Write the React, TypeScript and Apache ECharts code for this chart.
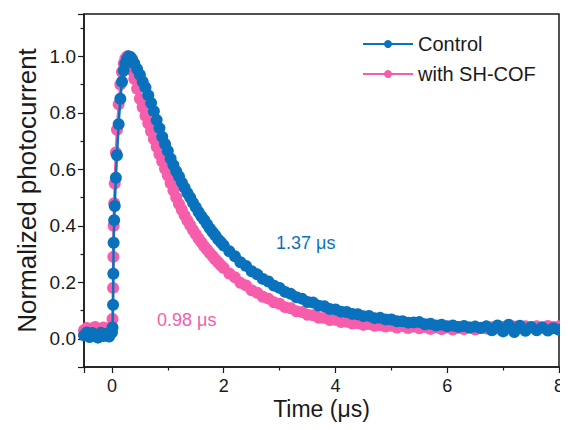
import React, { useEffect, useRef } from "react";
import * as echarts from "echarts";

const timeUs = [
  -0.5, -0.45, -0.4, -0.35, -0.3, -0.25, -0.2, -0.15, -0.1, -0.05, 0,
  0.01, 0.02, 0.025, 0.03, 0.04, 0.05, 0.07, 0.09, 0.12, 0.15, 0.18, 0.21, 0.24, 0.27, 0.3, 0.33, 0.36, 0.4, 0.45, 0.5, 0.55,
  0.6, 0.65, 0.7, 0.75, 0.8, 0.85, 0.9, 0.95, 1.0, 1.05, 1.1, 1.15, 1.2, 1.25, 1.3,
  1.35, 1.4, 1.45, 1.5, 1.55, 1.6, 1.65, 1.7, 1.75, 1.8, 1.85, 1.9, 1.95, 2.0,
  2.1, 2.2, 2.3, 2.4, 2.5, 2.6, 2.7, 2.8, 2.9, 3.0,
  3.1, 3.2, 3.3, 3.4, 3.5, 3.6, 3.7, 3.8, 3.9, 4.0,
  4.1, 4.2, 4.3, 4.4, 4.5, 4.6, 4.7, 4.8, 4.9, 5.0,
  5.1, 5.2, 5.3, 5.4, 5.5, 5.6, 5.7, 5.8, 5.9, 6.0,
  6.1, 6.2, 6.3, 6.4, 6.5, 6.6, 6.7, 6.8, 6.9, 7.0,
  7.1, 7.2, 7.3, 7.4, 7.5, 7.6, 7.7, 7.8, 7.9, 8.0,
];

const controlValue = [
  0.012, 0.022, 0.006, 0.02, 0.012, 0.004, 0.021, 0.01, 0.018, 0.008, 0.022,
  0.04, 0.12, 0.23, 0.34, 0.42, 0.47, 0.57, 0.65, 0.76, 0.85, 0.91, 0.95, 0.975, 0.99, 1.0, 0.998, 0.99, 0.975, 0.955, 0.935, 0.91,
  0.89, 0.862, 0.835, 0.806, 0.775, 0.746, 0.715, 0.69, 0.665, 0.638, 0.615, 0.593, 0.575, 0.553, 0.535,
  0.516, 0.5, 0.482, 0.466, 0.449, 0.434, 0.421, 0.406, 0.391, 0.378, 0.366, 0.352, 0.342, 0.33,
  0.31, 0.292, 0.271, 0.258, 0.239, 0.228, 0.212, 0.203, 0.188, 0.18,
  0.166, 0.159, 0.147, 0.142, 0.13, 0.128, 0.117, 0.115, 0.105, 0.104,
  0.096, 0.095, 0.088, 0.087, 0.08, 0.081, 0.073, 0.074, 0.068, 0.068,
  0.062, 0.062, 0.057, 0.058, 0.059, 0.051, 0.053, 0.047, 0.05, 0.044,
  0.047, 0.042, 0.045, 0.04, 0.043, 0.038, 0.044, 0.03, 0.047, 0.026,
  0.05, 0.024, 0.046, 0.028, 0.042, 0.03, 0.04, 0.029, 0.037, 0.032,
];

const shCofValue = [
  0.03, 0.038, 0.025, 0.036, 0.042, 0.027, 0.034, 0.04, 0.026, 0.036, 0.04,
  0.07, 0.18, 0.29, 0.4, 0.48, 0.55, 0.66, 0.74, 0.83, 0.9, 0.945, 0.975, 0.992, 1.0, 0.99, 0.97, 0.95, 0.92, 0.885, 0.85, 0.82,
  0.79, 0.762, 0.735, 0.707, 0.68, 0.653, 0.628, 0.602, 0.578, 0.551, 0.525, 0.5, 0.477, 0.457, 0.437,
  0.419, 0.402, 0.385, 0.37, 0.355, 0.342, 0.328, 0.316, 0.304, 0.293, 0.281, 0.271, 0.26, 0.251,
  0.231, 0.218, 0.198, 0.189, 0.172, 0.163, 0.149, 0.142, 0.129, 0.124,
  0.112, 0.108, 0.097, 0.095, 0.085, 0.083, 0.074, 0.074, 0.066, 0.067,
  0.059, 0.06, 0.054, 0.055, 0.049, 0.052, 0.046, 0.048, 0.043, 0.046,
  0.04, 0.045, 0.038, 0.043, 0.037, 0.042, 0.035, 0.041, 0.034, 0.04,
  0.033, 0.039, 0.034, 0.04, 0.033, 0.039, 0.036, 0.041, 0.037, 0.042,
  0.038, 0.043, 0.039, 0.044, 0.04, 0.044, 0.041, 0.045, 0.042, 0.044,
];

const seriesNames = ["Control", "with SH-COF"];
const lifetimeLabels = ["1.37 μs", "0.98 μs"];

const BLUE = "#0a72bd";
const PINK = "#f65dab";
const FONT = 'Arial, "Liberation Sans", sans-serif';
const INK = "#1a1a1a";

export default function App() {
  const ref = useRef<HTMLDivElement>(null);

  useEffect(() => {
    if (!ref.current) return;
    const chart = echarts.init(ref.current, undefined, { renderer: "svg" });
    const controlData = timeUs.map((t, i) => [t, controlValue[i]]);
    const cofData = timeUs.map((t, i) => [t, shCofValue[i]]);

    const axisCommon = {
      axisLine: { show: true, onZero: false, lineStyle: { color: INK, width: 1.5 } },
      axisTick: { show: true, inside: false, length: 6, lineStyle: { color: INK, width: 1.2 } },
      minorTick: { show: true, splitNumber: 2, length: 3.5, lineStyle: { color: INK, width: 1.2 } },
      splitLine: { show: false },
      minorSplitLine: { show: false },
    };

    chart.setOption({
      animation: false,
      grid: {
        left: 84,
        top: 14,
        right: 9,
        bottom: 63,
        show: true,
        borderColor: INK,
        borderWidth: 1.5,
        backgroundColor: "transparent",
      },
      xAxis: {
        type: "value",
        min: -0.5,
        max: 8,
        splitNumber: 4,
        name: "Time (μs)",
        nameLocation: "middle",
        nameGap: 30,
        nameMoveOverlap: false,
        nameTextStyle: { fontFamily: FONT, fontSize: 23, color: INK },
        ...axisCommon,
        axisLabel: {
          showMinLabel: false,
          margin: 10,
          fontFamily: FONT,
          fontSize: 18,
          color: INK,
          formatter: (v: number) => String(v),
        },
      },
      yAxis: {
        type: "value",
        min: -0.1,
        max: 1.15,
        splitNumber: 6,
        name: "Normalized photocurrent",
        nameLocation: "middle",
        nameGap: 44,
        nameMoveOverlap: false,
        nameTextStyle: { fontFamily: FONT, fontSize: 26, color: INK },
        ...axisCommon,
        axisLabel: {
          showMinLabel: false,
          showMaxLabel: false,
          margin: 8,
          fontFamily: FONT,
          fontSize: 19,
          color: INK,
          formatter: (v: number) => v.toFixed(1),
        },
      },
      legend: {
        orient: "vertical",
        left: 357,
        top: 29,
        itemWidth: 50,
        itemHeight: 10,
        itemGap: 10,
        data: seriesNames,
        textStyle: { fontFamily: FONT, fontSize: 20, color: INK },
      },
      series: [
        {
          name: seriesNames[1],
          type: "line",
          data: cofData,
          symbol: "circle",
          symbolSize: 12,
          showSymbol: true,
          lineStyle: { color: PINK, width: 2.5 },
          itemStyle: { color: PINK },
          emphasis: { disabled: true },
          z: 2,
        },
        {
          name: seriesNames[0],
          type: "line",
          data: controlData,
          symbol: "circle",
          symbolSize: 12,
          showSymbol: true,
          lineStyle: { color: BLUE, width: 2.5 },
          itemStyle: { color: BLUE },
          emphasis: { disabled: true },
          z: 3,
        },
      ],
      graphic: [
        {
          type: "text",
          x: 276,
          y: 243,
          style: {
            text: lifetimeLabels[0],
            fill: BLUE,
            font: `18px ${FONT}`,
            verticalAlign: "middle",
          },
        },
        {
          type: "text",
          x: 157,
          y: 320,
          style: {
            text: lifetimeLabels[1],
            fill: PINK,
            font: `18px ${FONT}`,
            verticalAlign: "middle",
          },
        },
      ],
    });

    return () => chart.dispose();
  }, []);

  return <div ref={ref} style={{ width: 568, height: 430, margin: -8 }} />;
}
